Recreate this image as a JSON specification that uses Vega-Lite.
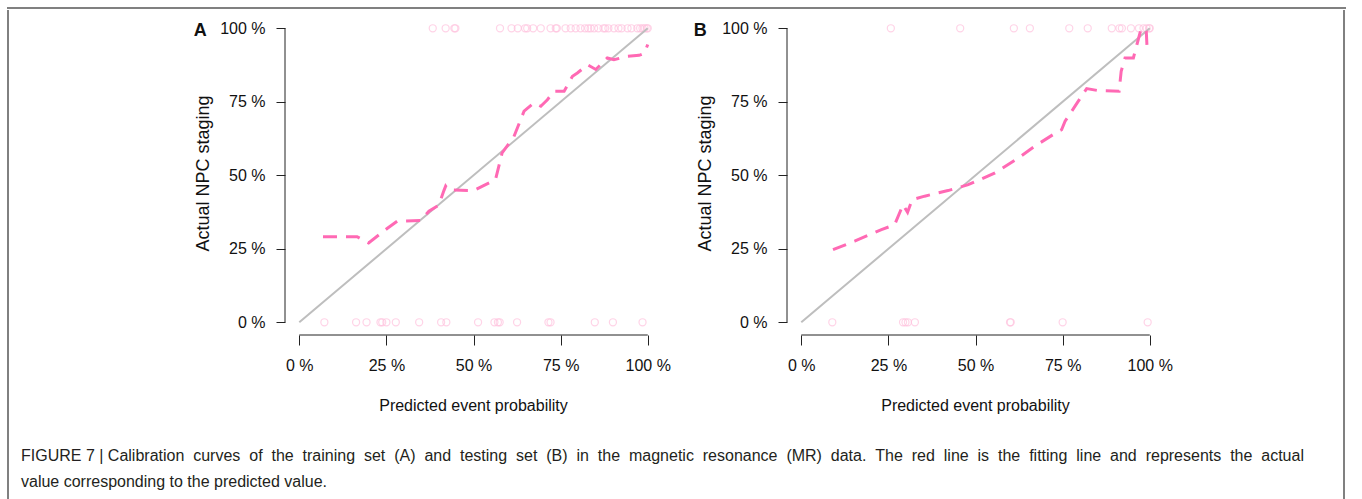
{
  "$schema": "https://vega.github.io/schema/vega-lite/v6.json",
  "padding": {"left": 7, "top": 7, "right": 0, "bottom": 0},
  "autosize": {"type": "pad"},
  "background": "white",
  "config": {
    "font": "Liberation Sans",
    "view": {"stroke": null},
    "axis": {"domain": false, "grid": false, "ticks": true, "tickColor": "#222", "tickWidth": 1, "labelFont": "Liberation Sans", "labelFontSize": 16, "labelColor": "#111", "labelFlush": false, "labelOverlap": false, "titleFont": "Liberation Sans", "titleFontWeight": "normal", "titleColor": "#111"},
    "axisX": {"tickSize": 10, "labelPadding": 12, "titleFontSize": 16, "titlePadding": 24},
    "axisY": {"tickSize": 9, "labelPadding": 11, "titleFontSize": 18, "titlePadding": 7}
  },
  "datasets": {
    "curveA": [
      {"p": 0.068, "a": 0.291}, {"p": 0.166, "a": 0.291}, {"p": 0.199, "a": 0.27}, {"p": 0.252, "a": 0.319}, {"p": 0.281, "a": 0.344}, {"p": 0.348, "a": 0.346}, {"p": 0.372, "a": 0.378}, {"p": 0.40, "a": 0.398}, {"p": 0.415, "a": 0.448}, {"p": 0.42, "a": 0.463}, {"p": 0.428, "a": 0.45}, {"p": 0.50, "a": 0.448}, {"p": 0.563, "a": 0.485}, {"p": 0.582, "a": 0.576}, {"p": 0.616, "a": 0.632}, {"p": 0.645, "a": 0.718}, {"p": 0.673, "a": 0.746}, {"p": 0.693, "a": 0.735}, {"p": 0.712, "a": 0.757}, {"p": 0.731, "a": 0.786}, {"p": 0.76, "a": 0.786}, {"p": 0.784, "a": 0.837}, {"p": 0.798, "a": 0.848}, {"p": 0.827, "a": 0.876}, {"p": 0.851, "a": 0.86}, {"p": 0.884, "a": 0.899}, {"p": 0.903, "a": 0.893}, {"p": 0.942, "a": 0.905}, {"p": 0.975, "a": 0.908}, {"p": 0.99, "a": 0.915}, {"p": 1.0, "a": 0.945}
    ],
    "obsA": [
      {"p": 0.383, "a": 1}, {"p": 0.420, "a": 1}, {"p": 0.445, "a": 1}, {"p": 0.448, "a": 1}, {"p": 0.576, "a": 1}, {"p": 0.609, "a": 1}, {"p": 0.627, "a": 1}, {"p": 0.648, "a": 1}, {"p": 0.654, "a": 1}, {"p": 0.671, "a": 1}, {"p": 0.693, "a": 1}, {"p": 0.721, "a": 1}, {"p": 0.736, "a": 1}, {"p": 0.739, "a": 1}, {"p": 0.764, "a": 1}, {"p": 0.779, "a": 1}, {"p": 0.793, "a": 1}, {"p": 0.807, "a": 1}, {"p": 0.820, "a": 1}, {"p": 0.829, "a": 1}, {"p": 0.836, "a": 1}, {"p": 0.846, "a": 1}, {"p": 0.858, "a": 1}, {"p": 0.873, "a": 1}, {"p": 0.878, "a": 1}, {"p": 0.887, "a": 1}, {"p": 0.903, "a": 1}, {"p": 0.916, "a": 1}, {"p": 0.925, "a": 1}, {"p": 0.942, "a": 1}, {"p": 0.953, "a": 1}, {"p": 0.970, "a": 1}, {"p": 0.978, "a": 1}, {"p": 0.985, "a": 1}, {"p": 0.991, "a": 1}, {"p": 0.997, "a": 1}, {"p": 1.0, "a": 1},
      {"p": 0.072, "a": 0}, {"p": 0.163, "a": 0}, {"p": 0.193, "a": 0}, {"p": 0.233, "a": 0}, {"p": 0.238, "a": 0}, {"p": 0.25, "a": 0}, {"p": 0.277, "a": 0}, {"p": 0.344, "a": 0}, {"p": 0.407, "a": 0}, {"p": 0.422, "a": 0}, {"p": 0.513, "a": 0}, {"p": 0.560, "a": 0}, {"p": 0.570, "a": 0}, {"p": 0.575, "a": 0}, {"p": 0.625, "a": 0}, {"p": 0.715, "a": 0}, {"p": 0.721, "a": 0}, {"p": 0.848, "a": 0}, {"p": 0.900, "a": 0}, {"p": 0.985, "a": 0}
    ],
    "curveB": [
      {"p": 0.091, "a": 0.247}, {"p": 0.153, "a": 0.276}, {"p": 0.23, "a": 0.315}, {"p": 0.268, "a": 0.332}, {"p": 0.292, "a": 0.40}, {"p": 0.305, "a": 0.374}, {"p": 0.318, "a": 0.417}, {"p": 0.354, "a": 0.429}, {"p": 0.421, "a": 0.448}, {"p": 0.479, "a": 0.468}, {"p": 0.556, "a": 0.508}, {"p": 0.623, "a": 0.559}, {"p": 0.67, "a": 0.599}, {"p": 0.738, "a": 0.65}, {"p": 0.747, "a": 0.655}, {"p": 0.757, "a": 0.684}, {"p": 0.795, "a": 0.752}, {"p": 0.819, "a": 0.795}, {"p": 0.852, "a": 0.788}, {"p": 0.912, "a": 0.786}, {"p": 0.918, "a": 0.854}, {"p": 0.929, "a": 0.899}, {"p": 0.953, "a": 0.899}, {"p": 0.963, "a": 0.944}, {"p": 0.975, "a": 0.997}, {"p": 0.985, "a": 1.0}, {"p": 0.99, "a": 0.99}, {"p": 0.993, "a": 0.917}
    ],
    "obsB": [
      {"p": 0.257, "a": 1}, {"p": 0.456, "a": 1}, {"p": 0.610, "a": 1}, {"p": 0.656, "a": 1}, {"p": 0.769, "a": 1}, {"p": 0.822, "a": 1}, {"p": 0.891, "a": 1}, {"p": 0.913, "a": 1}, {"p": 0.920, "a": 1}, {"p": 0.946, "a": 1}, {"p": 0.969, "a": 1}, {"p": 0.982, "a": 1}, {"p": 0.991, "a": 1}, {"p": 0.998, "a": 1}, {"p": 1.0, "a": 1},
      {"p": 0.089, "a": 0}, {"p": 0.292, "a": 0}, {"p": 0.299, "a": 0}, {"p": 0.306, "a": 0}, {"p": 0.326, "a": 0}, {"p": 0.599, "a": 0}, {"p": 0.601, "a": 0}, {"p": 0.75, "a": 0}, {"p": 0.994, "a": 0}
    ]
  },
  "spacing": 0,
  "vconcat": [
    {"width": 1337, "height": 0.01, "data": {"values": []}, "mark": "point", "view": {"stroke": "#808080", "strokeWidth": 2}},
    {
      "spacing": 183,
      "hconcat": [
        {"width": 0.01, "height": 420, "data": {"values": []}, "mark": "point", "view": {"stroke": "#808080", "strokeWidth": 2}},
        {
          "spacing": 170,
          "hconcat": [
            {
              "spacing": 22,
              "hconcat": [
                {
                  "width": 376, "height": 324,
                  "layer": [
                    {"data": {"name": "obsA"}, "mark": {"type": "point", "filled": false, "color": "#FFC2DE", "strokeWidth": 1.2, "size": 50},
                     "encoding": {
                       "x": {"field": "p", "type": "quantitative", "scale": {"domain": [-0.041, 1.038], "nice": false, "zero": false}, "axis": {"values": [0, 0.25, 0.5, 0.75, 1], "labelExpr": "format(datum.value*100,'.0f') + ' %'", "title": "Predicted event probability"}},
                       "y": {"field": "a", "type": "quantitative", "scale": {"domain": [-0.0432, 1.0588], "nice": false, "zero": false}, "axis": {"values": [0, 0.25, 0.5, 0.75, 1], "labelExpr": "format(datum.value*100,'.0f') + ' %'", "title": "Actual NPC staging"}}
                     }},
                    {"data": {"values": [{}]}, "mark": {"type": "rule", "color": "#BEBEBE", "strokeWidth": 2},
                     "encoding": {"x": {"datum": 0}, "y": {"datum": 0}, "x2": {"datum": 1}, "y2": {"datum": 1}}},
                    {"data": {"name": "curveA"}, "mark": {"type": "line", "color": "#FF69B4", "strokeWidth": 3, "strokeDash": [14, 9]},
                     "encoding": {"x": {"field": "p", "type": "quantitative"}, "y": {"field": "a", "type": "quantitative"}}},
                    {"data": {"values": [{}]}, "mark": {"type": "rule", "color": "#222", "strokeWidth": 1},
                     "encoding": {"x": {"datum": 0}, "x2": {"datum": 1}, "y": {"datum": -0.0432}}},
                    {"data": {"values": [{}]}, "mark": {"type": "rule", "color": "#222", "strokeWidth": 1},
                     "encoding": {"x": {"datum": -0.041}, "y": {"datum": 0}, "y2": {"datum": 1}}},
                    {"data": {"values": [{}]}, "mark": {"type": "text", "text": "A", "fontSize": 18, "fontWeight": "bold", "font": "Liberation Sans", "align": "center", "baseline": "middle", "color": "#111"},
                     "encoding": {"x": {"datum": -0.284}, "y": {"datum": 0.992}}}
                  ]
                },
                {
                  "width": 376, "height": 324,
                  "layer": [
                    {"data": {"name": "obsB"}, "mark": {"type": "point", "filled": false, "color": "#FFC2DE", "strokeWidth": 1.2, "size": 50},
                     "encoding": {
                       "x": {"field": "p", "type": "quantitative", "scale": {"domain": [-0.041, 1.038], "nice": false, "zero": false}, "axis": {"values": [0, 0.25, 0.5, 0.75, 1], "labelExpr": "format(datum.value*100,'.0f') + ' %'", "title": "Predicted event probability"}},
                       "y": {"field": "a", "type": "quantitative", "scale": {"domain": [-0.0432, 1.0588], "nice": false, "zero": false}, "axis": {"values": [0, 0.25, 0.5, 0.75, 1], "labelExpr": "format(datum.value*100,'.0f') + ' %'", "title": "Actual NPC staging"}}
                     }},
                    {"data": {"values": [{}]}, "mark": {"type": "rule", "color": "#BEBEBE", "strokeWidth": 2},
                     "encoding": {"x": {"datum": 0}, "y": {"datum": 0}, "x2": {"datum": 1}, "y2": {"datum": 1}}},
                    {"data": {"name": "curveB"}, "mark": {"type": "line", "color": "#FF69B4", "strokeWidth": 3, "strokeDash": [14, 9]},
                     "encoding": {"x": {"field": "p", "type": "quantitative"}, "y": {"field": "a", "type": "quantitative"}}},
                    {"data": {"values": [{}]}, "mark": {"type": "rule", "color": "#222", "strokeWidth": 1},
                     "encoding": {"x": {"datum": 0}, "x2": {"datum": 1}, "y": {"datum": -0.0432}}},
                    {"data": {"values": [{}]}, "mark": {"type": "rule", "color": "#222", "strokeWidth": 1},
                     "encoding": {"x": {"datum": -0.041}, "y": {"datum": 0}, "y2": {"datum": 1}}},
                    {"data": {"values": [{}]}, "mark": {"type": "text", "text": "B", "fontSize": 18, "fontWeight": "bold", "font": "Liberation Sans", "align": "center", "baseline": "middle", "color": "#111"},
                     "encoding": {"x": {"datum": -0.29}, "y": {"datum": 0.992}}}
                  ]
                }
              ]
            },
            {"width": 0.01, "height": 420, "data": {"values": []}, "mark": "point", "view": {"stroke": "#808080", "strokeWidth": 2}}
          ]
        }
      ]
    },
    {
      "spacing": 11,
      "hconcat": [
        {"width": 0.01, "height": 80, "data": {"values": []}, "mark": "point", "view": {"stroke": "#808080", "strokeWidth": 2}},
        {"width": 1311, "height": 0.01, "data": {"values": []}, "mark": "point",
         "title": {"text": ["FIGURE 7 | Calibration \u00a0curves \u00a0of \u00a0the \u00a0training \u00a0set \u00a0(A) \u00a0and \u00a0testing \u00a0set \u00a0(B) \u00a0in \u00a0the \u00a0magnetic \u00a0resonance \u00a0(MR) \u00a0data. \u00a0The \u00a0red \u00a0line \u00a0is \u00a0the \u00a0fitting \u00a0line \u00a0and \u00a0represents \u00a0the \u00a0actual", "value corresponding to the predicted value."], "orient": "bottom", "anchor": "start", "font": "Liberation Sans", "fontSize": 16, "fontWeight": "normal", "color": "#231F20", "lineHeight": 26, "offset": 15}},
        {"width": 0.01, "height": 80, "data": {"values": []}, "mark": "point", "view": {"stroke": "#808080", "strokeWidth": 2}}
      ]
    }
  ]
}
